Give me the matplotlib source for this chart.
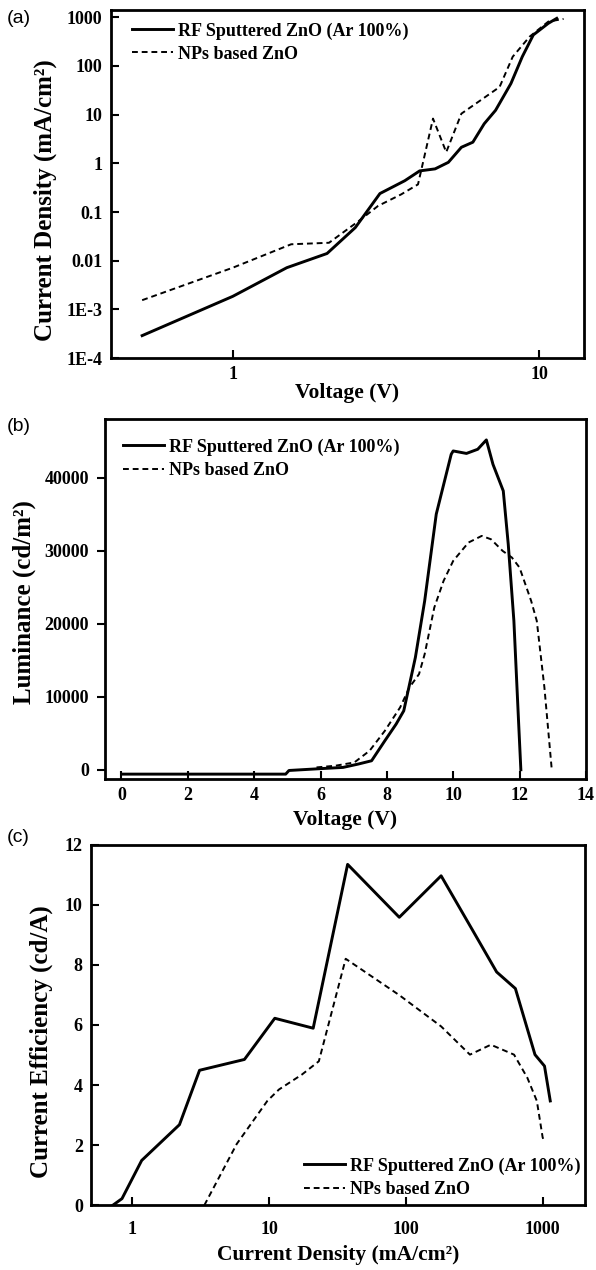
import matplotlib
matplotlib.use("Agg")
import matplotlib.pyplot as plt
from matplotlib.ticker import NullLocator

plt.rcParams["font.family"] = ["Liberation Serif", "DejaVu Serif"]
plt.rcParams["font.weight"] = "bold"

LABEL_RF = "RF Sputtered ZnO (Ar 100%)"
LABEL_NP = "NPs based ZnO"

# (a) J-V
jv_rf_v = [0.506, 1.0, 1.5, 2.03, 2.51, 3.02, 3.64, 4.07, 4.57, 5.05, 5.57, 6.07,
           6.61, 7.2, 8.08, 8.8, 9.56, 10.7, 11.4]
jv_rf_j = [2.9e-4, 1.86e-3, 7.2e-3, 0.0141, 0.048, 0.24, 0.44, 0.7, 0.77, 1.05, 2.14, 2.72,
           6.5, 12.3, 43.6, 155, 434, 751, 950]
jv_np_v = [0.506, 1.0, 1.55, 2.06, 2.58, 2.98, 3.54, 4.02, 4.5, 4.97, 5.57, 6.43,
           7.42, 8.19, 9.3, 10.7, 12.0]
jv_np_j = [1.55e-3, 7.2e-3, 0.0218, 0.0234, 0.066, 0.134, 0.23, 0.37, 8.3, 1.7, 10.5, 19.7,
           37, 155, 400, 815, 925]
jv_yticks = [1e-4, 1e-3, 0.01, 0.1, 1, 10, 100, 1000]
jv_ytick_labels = ["1E-4", "1E-3", "0.01", "0.1", "1", "10", "100", "1000"]

# (b) L-V
lv_rf_v = [0, 1, 2, 3, 4, 4.95, 5.05, 6.0, 6.68, 7.14, 7.54, 7.94, 8.28, 8.51, 8.86, 9.14, 9.49,
           9.94, 10.0, 10.4, 10.74, 11.0, 11.2, 11.51, 11.66, 11.83, 11.97, 12.04]
lv_rf_l = [-600, -600, -600, -600, -600, -600, -100, 150, 320, 780, 1230, 3970, 6250, 8070, 15370,
           23100, 35000, 43180, 43640, 43300, 43870, 45150, 41800, 38170, 30870, 20380, 6700, 0]
lv_np_v = [5.88, 6.45, 7.02, 7.48, 7.94, 8.4, 8.68, 8.97, 9.14, 9.43, 9.71, 10.0, 10.46,
           10.86, 11.14, 11.49, 11.77, 12.0, 12.35, 12.52, 12.75, 12.97]
lv_np_l = [320, 550, 1000, 2600, 5330, 8530, 11260, 13090, 15820, 22200, 25850, 28590, 31100,
           32010, 31550, 29960, 29050, 27680, 23120, 20380, 11260, 100]

# (c) CE-J
ce_rf_j = [0.72, 0.84, 1.17, 2.21, 3.1, 6.6, 11.0, 21.0, 37.5, 89.5, 181, 303, 461, 632,
           879, 1032, 1137]
ce_rf_ce = [0, 0.22, 1.49, 2.68, 4.49, 4.85, 6.22, 5.89, 11.34, 9.58, 10.96, 9.2, 7.76, 7.21,
            5.01, 4.63, 3.47]
ce_np_j = [3.36, 5.8, 9.7, 11.8, 17.4, 23.1, 36.3, 89.5, 181, 294, 418, 618, 773, 907, 1000, 1030]
ce_np_ce = [0, 2.04, 3.47, 3.85, 4.35, 4.79, 8.2, 6.99, 5.95, 5.01, 5.34, 5.01, 4.24, 3.47,
            2.26, 2.1]

SOLID = dict(color="black", lw=2.1)
DASHED = dict(color="black", lw=1.4, ls=(0, (3, 2)))


def style_axes(ax, xpad=6, ydir="in"):
    for s in ax.spines.values():
        s.set_linewidth(2.0)
    ax.tick_params(direction="in", length=5.5, width=1.5, labelsize=13, pad=6)
    ax.tick_params(axis="x", pad=xpad)
    ax.tick_params(axis="y", direction=ydir)
    for lab in ax.get_xticklabels() + ax.get_yticklabels():
        lab.set_fontweight("bold")


def add_legend(ax, **kw):
    leg = ax.legend(frameon=False, fontsize=13, handlelength=2.3, handletextpad=0.25,
                    labelspacing=0.34, borderpad=0, borderaxespad=0, **kw)
    for t in leg.get_texts():
        t.set_fontweight("bold")


def set_labels(ax, xlabel, ylabel, xy, yx, yy):
    ax.set_xlabel(xlabel, fontsize=15.5, fontweight="bold")
    ax.set_ylabel(ylabel, fontsize=18, fontweight="bold")
    ax.xaxis.set_label_coords(0.5, xy)
    ax.yaxis.set_label_coords(yx, yy)


fig = plt.figure(figsize=(5.96, 12.70), dpi=100)

# ---- (a)
ax1 = fig.add_axes([0.186, 0.718, 0.794, 0.274])
ax1.plot(jv_rf_v, jv_rf_j, label=LABEL_RF, **SOLID)
ax1.plot(jv_np_v, jv_np_j, label=LABEL_NP, **DASHED)
ax1.set_xscale("log")
ax1.set_yscale("log")
ax1.set_xlim(0.4, 14)
ax1.set_ylim(1e-4, 1400)
ax1.set_xticks([1, 10])
ax1.set_xticklabels(["1", "10"])
ax1.set_yticks(jv_yticks)
ax1.set_yticklabels(jv_ytick_labels)
ax1.xaxis.set_minor_locator(NullLocator())
ax1.yaxis.set_minor_locator(NullLocator())
set_labels(ax1, "Voltage (V)", "Current Density (mA/cm²)", -0.072, -0.113, 0.455)
style_axes(ax1)
add_legend(ax1, loc="upper left", bbox_to_anchor=(0.044, 0.965))

# ---- (b)
ax2 = fig.add_axes([0.176, 0.387, 0.807, 0.283])
ax2.plot(lv_rf_v, lv_rf_l, label=LABEL_RF, **SOLID)
ax2.plot(lv_np_v, lv_np_l, label=LABEL_NP, **DASHED)
ax2.set_xlim(-0.5, 14)
ax2.set_ylim(-1200, 48000)
ax2.set_xticks(range(0, 15, 2))
ax2.set_yticks(range(0, 40001, 10000))
set_labels(ax2, "Voltage (V)", "Luminance (cd/m²)", -0.089, -0.143, 0.49)
style_axes(ax2, ydir="out")
add_legend(ax2, loc="upper left", bbox_to_anchor=(0.037, 0.946))

# ---- (c)
ax3 = fig.add_axes([0.153, 0.051, 0.829, 0.284])
ax3.plot(ce_rf_j, ce_rf_ce, label=LABEL_RF, **SOLID)
ax3.plot(ce_np_j, ce_np_ce, label=LABEL_NP, **DASHED)
ax3.set_xscale("log")
ax3.set_xlim(0.5, 2050)
ax3.set_ylim(0, 12)
ax3.set_xticks([1, 10, 100, 1000])
ax3.set_xticklabels(["1", "10", "100", "1000"])
ax3.xaxis.set_minor_locator(NullLocator())
ax3.set_yticks(range(0, 13, 2))
set_labels(ax3, "Current Density (mA/cm²)", "Current Efficiency (cd/A)", -0.111, -0.077, 0.453)
style_axes(ax3, xpad=11)
add_legend(ax3, loc="lower right", bbox_to_anchor=(0.99, 0.02))

# panel letters
for y, s in [(0.992, "(a)"), (0.671, "(b)"), (0.347, "(c)")]:
    fig.text(0.012, y, s, fontsize=14, family="Liberation Sans", weight="normal", va="top")

fig.savefig("out.png", dpi=100)
